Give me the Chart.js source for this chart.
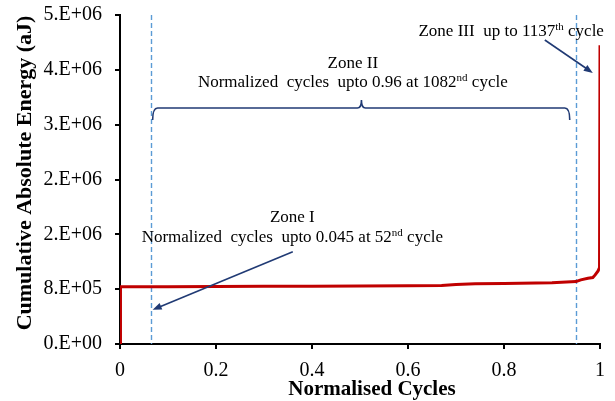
<!DOCTYPE html>
<html>
<head>
<meta charset="utf-8">
<script src="https://cdn.jsdelivr.net/npm/chart.js@4.4.1/dist/chart.umd.min.js"></script>
<style>
  html, body { margin: 0; padding: 0; background: #fff; }
  #wrap { width: 615px; height: 401px; }
</style>
</head>
<body>
<div id="wrap"><canvas id="myChart" width="615" height="401"></canvas></div>
<script>
// normalised cycle vs cumulative absolute energy (aJ)
const cycleFrac = [0, 0.001, 0.1, 0.2, 0.3, 0.4, 0.5, 0.6, 0.67, 0.7, 0.74, 0.8, 0.9, 0.95, 0.96, 0.975, 0.985, 0.99, 0.996, 0.999, 1.0];
const energy = [0, 870000, 871000, 873000, 876000, 879000, 882000, 886000, 890000, 905000, 914000, 918000, 930000, 948000, 975000, 1000000, 1010000, 1050000, 1110000, 1160000, 4540000];

const xTickValues = [0, 0.2, 0.4, 0.6, 0.8, 1];
const xTickLabels = ['0', '0.2', '0.4', '0.6', '0.8', '1'];
const yMax = 5000000;
const yTickLabels = ['0.E+00', '8.E+05', '2.E+06', '2.E+06', '3.E+06', '4.E+06', '5.E+06'];

// zone boundaries (dashed lines)
const zoneBounds = [0.064, 0.95];

const serif = '"Liberation Serif", "Times New Roman", serif';
const navy = '#203a74';

function richText(ctx, parts, cx, cy, size) {
  const widths = parts.map(p => {
    ctx.font = (p.sup ? Math.round(size * 0.62) : size) + 'px ' + serif;
    return ctx.measureText(p.t).width;
  });
  let x = cx - widths.reduce((a, b) => a + b, 0) / 2;
  ctx.textAlign = 'left';
  ctx.textBaseline = 'middle';
  ctx.fillStyle = '#000';
  parts.forEach((p, i) => {
    ctx.font = (p.sup ? Math.round(size * 0.62) : size) + 'px ' + serif;
    ctx.fillText(p.t, x, p.sup ? cy - size * 0.3 : cy);
    x += widths[i];
  });
}

function arrow(ctx, x0, y0, x1, y1) {
  const a = Math.atan2(y1 - y0, x1 - x0);
  ctx.strokeStyle = navy;
  ctx.fillStyle = navy;
  ctx.lineWidth = 1.6;
  ctx.beginPath();
  ctx.moveTo(x0, y0);
  ctx.lineTo(x1 - 6 * Math.cos(a), y1 - 6 * Math.sin(a));
  ctx.stroke();
  ctx.beginPath();
  ctx.moveTo(x1, y1);
  ctx.lineTo(x1 - 9 * Math.cos(a) + 3.5 * Math.sin(a), y1 - 9 * Math.sin(a) - 3.5 * Math.cos(a));
  ctx.lineTo(x1 - 9 * Math.cos(a) - 3.5 * Math.sin(a), y1 - 9 * Math.sin(a) + 3.5 * Math.cos(a));
  ctx.closePath();
  ctx.fill();
}

const zoneLines = {
  id: 'zoneLines',
  beforeDatasetsDraw(chart) {
    const { ctx, chartArea, scales: { x } } = chart;
    ctx.save();
    ctx.strokeStyle = '#5b9bd5';
    ctx.lineWidth = 1.4;
    ctx.setLineDash([5, 3]);
    zoneBounds.forEach(v => {
      const px = Math.round(x.getPixelForValue(v)) + 0.5;
      ctx.beginPath();
      ctx.moveTo(px, chartArea.top);
      ctx.lineTo(px, chartArea.bottom);
      ctx.stroke();
    });
    ctx.restore();
  }
};

const notes = {
  id: 'notes',
  afterDraw(chart) {
    const { ctx, chartArea, scales: { x, y } } = chart;
    const X = v => x.getPixelForValue(v);
    const Y = v => y.getPixelForValue(v);
    ctx.save();

    // Zone III
    richText(ctx, [{ t: 'Zone III  up to 1137' }, { t: 'th', sup: true }, { t: ' cycle' }], X(0.815), Y(4742000), 17);
    arrow(ctx, X(0.885), Y(4620000), X(0.985), Y(4120000));

    // Zone II
    richText(ctx, [{ t: 'Zone II' }], X(0.485), Y(4270000), 17);
    richText(ctx, [{ t: 'Normalized  cycles  upto 0.96 at 1082' }, { t: 'nd', sup: true }, { t: ' cycle' }], X(0.485), Y(3967000), 17);

    // brace over zone II
    const bx0 = X(0.068), bx1 = X(0.937), bxc = X(0.503);
    const byt = Y(3587000), byb = Y(3405000), byp = Y(3710000);
    ctx.strokeStyle = navy;
    ctx.lineWidth = 1.6;
    ctx.beginPath();
    ctx.moveTo(bx0, byb);
    ctx.quadraticCurveTo(bx0, byt, bx0 + 5, byt);
    ctx.lineTo(bxc - 4, byt);
    ctx.quadraticCurveTo(bxc, byt, bxc, byp);
    ctx.quadraticCurveTo(bxc, byt, bxc + 4, byt);
    ctx.lineTo(bx1 - 5, byt);
    ctx.quadraticCurveTo(bx1, byt, bx1, byb);
    ctx.stroke();

    // Zone I
    richText(ctx, [{ t: 'Zone I' }], X(0.359), Y(1923000), 17);
    richText(ctx, [{ t: 'Normalized  cycles  upto 0.045 at 52' }, { t: 'nd', sup: true }, { t: ' cycle' }], X(0.359), Y(1614000), 17);
    arrow(ctx, X(0.36), Y(1401000), X(0.068), Y(520000));

    // axis titles
    ctx.fillStyle = '#000';
    ctx.textAlign = 'center';
    ctx.textBaseline = 'middle';
    ctx.font = 'bold 21px ' + serif;
    ctx.fillText('Normalised Cycles', chartArea.left + 252, 390);
    ctx.font = 'bold 22px ' + serif;
    ctx.translate(25, 173);
    ctx.rotate(-Math.PI / 2);
    ctx.fillText('Cumulative Absolute Energy (aJ)', 0, 0);
    ctx.restore();
  }
};

const ctx = document.getElementById('myChart');
Chart.defaults.font.family = serif;
Chart.defaults.color = '#000';

new Chart(ctx, {
  type: 'scatter',
  data: {
    datasets: [{
      data: cycleFrac.map((c, i) => ({ x: c, y: energy[i] })),
      showLine: true,
      borderColor: '#c00000',
      borderWidth: 3,
      pointRadius: 0,
      tension: 0
    }]
  },
  options: {
    responsive: false,
    animation: false,
    layout: { padding: { top: 15, right: 15, left: 0, bottom: 0 } },
    plugins: {
      legend: { display: false },
      tooltip: { enabled: false }
    },
    scales: {
      x: {
        type: 'linear',
        min: 0,
        max: 1,
        afterBuildTicks: s => { s.ticks = xTickValues.map(v => ({ value: v })); },
        afterFit: s => { s.height = 57; s.paddingLeft = 0; s.paddingRight = 0; },
        ticks: {
          font: { size: 20 },
          padding: 10,
          maxRotation: 0,
          callback: (v, i) => xTickLabels[i]
        },
        grid: { drawOnChartArea: false, tickLength: 5, color: '#000', lineWidth: 2 },
        border: { color: '#000', width: 2 }
      },
      y: {
        min: 0,
        max: yMax,
        afterBuildTicks: s => { s.ticks = yTickLabels.map((_, i) => ({ value: i * yMax / 6 })); },
        afterFit: s => { s.width = 120; s.paddingTop = 0; s.paddingBottom = 0; },
        ticks: {
          font: { size: 20 },
          padding: 13,
          callback: (v, i) => yTickLabels[i]
        },
        grid: { drawOnChartArea: false, tickLength: 5, color: '#000', lineWidth: 2 },
        border: { color: '#000', width: 2 }
      }
    }
  },
  plugins: [zoneLines, notes]
});
</script>
</body>
</html>
